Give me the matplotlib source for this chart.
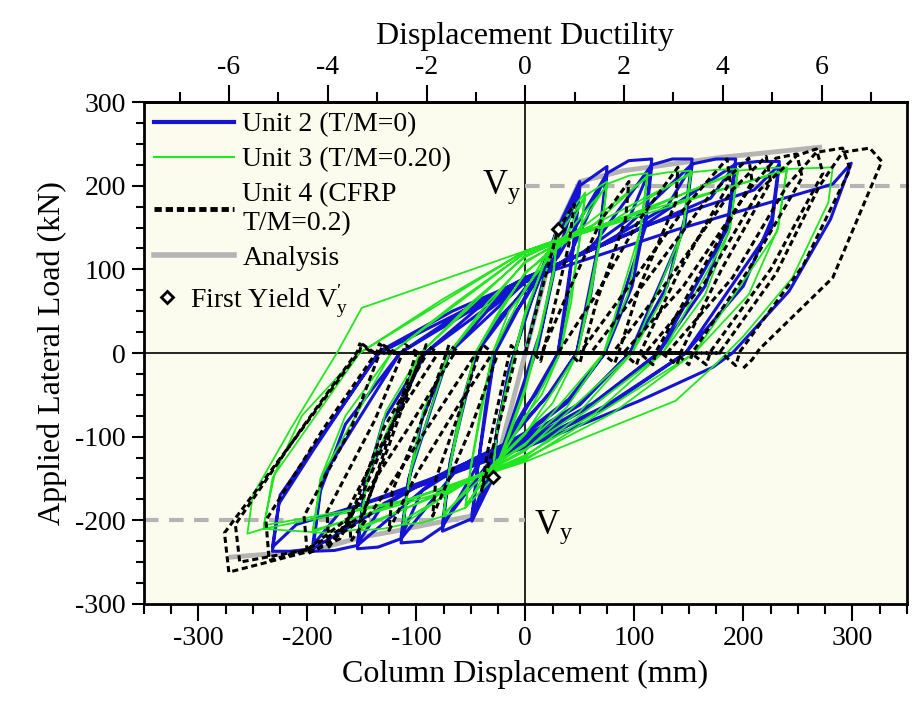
import matplotlib
matplotlib.use('Agg')
import matplotlib.pyplot as plt
from matplotlib.ticker import MultipleLocator
from matplotlib.lines import Line2D

plt.rcParams['font.family'] = ['Liberation Serif', 'DejaVu Serif']
plt.rcParams['mathtext.fontset'] = 'custom'
plt.rcParams['mathtext.rm'] = 'Liberation Serif'
plt.rcParams['mathtext.it'] = 'Liberation Serif:italic'
plt.rcParams['axes.unicode_minus'] = False

# axis ranges and ductility scale
x_lim = (-350, 350)
y_lim = (-300, 300)
mm_per_mu = 45.3
vy = 200

# first yield points (mm, kN)
yield_x = [30, -30]
yield_y = [148, -148]

# Analysis envelope (mm, kN)
analysis_pos = [(0, 0), (30, 150), (50, 205), (90, 218), (180, 234), (270, 246)]
analysis_neg = [(0, 0), (-30, -150), (-50, -195), (-90, -205), (-120, -213),
                (-150, -220), (-195, -236), (-270, -244)]

# Unit 2 (T/M=0) load path
unit2 = [
    (0, 0), (15, 80), (30, 154), (26, 100), (15, 30), (0, -30), (-15, -90), (-30, -150),
    (-26, -95), (-15, -20), (0, 40), (15, 100), (30, 150), (26, 95), (12, 10), (0, -35),
    (-15, -95), (-30, -148), (-26, -90), (-12, -10), (0, 45),
    # 50 mm
    (20, 110), (30, 150), (50, 205), (45, 140), (38, 60), (30, 0), (15, -40), (0, -65),
    (-20, -110), (-30, -150), (-49, -201), (-44, -140), (-36, -60), (-28, 0), (-14, 40), (0, 65),
    (20, 110), (50, 198), (45, 135), (30, 0), (0, -68), (-30, -140), (-49, -195), (-43, -130),
    (-28, 0), (0, 68),
    # 75 mm
    (30, 120), (50, 200), (75, 223), (68, 140), (60, 70), (47, 0), (25, -45), (0, -80),
    (-30, -125), (-49, -198), (-76, -213), (-70, -140), (-58, -60), (-45, 0), (-22, 45), (0, 75),
    (30, 115), (75, 215), (68, 135), (47, 0), (22, -48), (0, -82), (-30, -125), (-76, -205),
    (-69, -130), (-45, 0), (0, 78),
    # 116 mm
    (40, 115), (75, 215), (95, 230), (116, 232), (110, 160), (98, 80), (73, 0), (40, -55), (0, -95),
    (-40, -125), (-76, -208), (-95, -225), (-114, -227), (-108, -160), (-95, -80), (-70, 0),
    (-35, 50), (0, 85), (50, 118), (95, 160), (116, 225), (110, 150), (73, 0), (40, -58), (0, -97),
    (-50, -128), (-95, -165), (-114, -220), (-107, -150), (-70, 0), (0, 85),
    # 153 mm
    (60, 125), (116, 225), (135, 232), (153, 232), (146, 160), (130, 80), (96, 0), (50, -60),
    (0, -100), (-60, -135), (-114, -222), (-135, -232), (-154, -234), (-147, -160), (-130, -80),
    (-92, 0), (-45, 52), (0, 88), (70, 130), (130, 175), (153, 225), (146, 150), (96, 0), (50, -62),
    (0, -102), (-70, -140), (-130, -180), (-154, -228), (-146, -150), (-92, 0), (0, 88),
    # 193 mm
    (80, 135), (153, 226), (175, 232), (193, 232), (186, 160), (165, 80), (122, 0), (62, -60),
    (0, -105), (-80, -148), (-154, -230), (-175, -236), (-195, -237), (-188, -165), (-165, -85),
    (-115, 0), (-55, 52), (0, 90), (90, 140), (170, 185), (193, 226), (186, 150), (122, 0),
    (62, -62), (0, -108), (-90, -152), (-170, -190), (-195, -230), (-187, -150), (-115, 0), (0, 90),
    # 233 mm
    (100, 145), (193, 226), (213, 229), (233, 229), (226, 160), (200, 80), (147, 0), (75, -62),
    (0, -110), (-100, -160), (-195, -234), (-215, -237), (-232, -237), (-226, -180), (-195, -117),
    (-134, 2), (-67, 50), (0, 88), (110, 152), (210, 195), (233, 225), (226, 150), (147, 0),
    (75, -64), (0, -112), (-110, -165), (-210, -205), (-232, -232), (-225, -170), (-134, 0), (0, 88),
    # 299 mm
    (140, 148), (282, 202), (299, 227), (280, 160), (242, 74), (190, 0), (172, -17), (105, -57),
    (0, -113), (-30, -125),
]

# Unit 3 (T/M=0.20)
unit3 = [
    (0, 0), (15, 78), (30, 150), (26, 100), (12, 20), (0, -40), (-15, -95), (-30, -148),
    (-26, -95), (-12, -15), (0, 45), (15, 100), (30, 148), (26, 95), (10, 5), (0, -45),
    (-15, -100), (-30, -146), (-26, -90), (-10, 0), (0, 50),
    # 55 mm
    (20, 115), (30, 150), (55, 192), (50, 140), (42, 60), (32, 0), (15, -50), (0, -75),
    (-20, -118), (-30, -150), (-55, -185), (-50, -135), (-40, -60), (-30, 0), (-15, 50), (0, 75),
    (20, 120), (55, 188), (50, 135), (32, 0), (0, -78), (-30, -140), (-55, -182), (-49, -130),
    (-30, 0), (0, 78),
    # 75 mm
    (35, 135), (55, 188), (75, 205), (70, 145), (60, 70), (48, 0), (25, -60), (0, -95),
    (-35, -140), (-55, -185), (-75, -195), (-70, -140), (-60, -70), (-46, 0), (-22, 55), (0, 95),
    (35, 138), (75, 200), (69, 140), (48, 0), (0, -97), (-35, -143), (-75, -192), (-69, -135),
    (-46, 0), (0, 97),
    # 112 mm
    (45, 140), (75, 202), (95, 212), (112, 215), (106, 150), (94, 70), (72, 0), (38, -65),
    (0, -108), (-45, -148), (-75, -195), (-95, -203), (-112, -205), (-106, -145), (-94, -70),
    (-70, 0), (-35, 60), (0, 108), (50, 148), (112, 210), (105, 145), (72, 0), (0, -110),
    (-50, -152), (-112, -200), (-105, -140), (-70, 0), (0, 110),
    # 152 mm
    (60, 150), (112, 212), (130, 216), (152, 218), (145, 150), (128, 70), (98, 0), (50, -70),
    (0, -115), (-60, -158), (-112, -205), (-130, -210), (-152, -212), (-145, -150), (-128, -70),
    (-96, 0), (-48, 62), (0, 115), (65, 155), (152, 214), (144, 145), (98, 0), (0, -117),
    (-65, -162), (-152, -208), (-144, -145), (-96, 0), (0, 117),
    # 195 mm
    (80, 158), (152, 216), (175, 219), (195, 220), (188, 150), (165, 70), (126, 0), (64, -72),
    (0, -122), (-80, -168), (-152, -211), (-175, -214), (-195, -215), (-188, -150), (-165, -75),
    (-123, 0), (-62, 62), (0, 120), (85, 160), (195, 216), (187, 145), (126, 0), (0, -124),
    (-85, -170), (-195, -212), (-186, -145), (-123, 0), (0, 120),
    # 240 mm
    (100, 165), (195, 218), (220, 221), (240, 222), (232, 150), (205, 70), (155, 0), (80, -72),
    (0, -126), (-100, -172), (-195, -214), (-220, -212), (-240, -210), (-232, -150), (-205, -75),
    (-152, 0), (-75, 65), (0, 122), (105, 168), (240, 218), (231, 145), (155, 0), (0, -128),
    (-105, -175), (-240, -206), (-230, -145), (-152, 0), (0, 122),
    # 282 mm / -255 mm
    (120, 170), (240, 220), (282, 222), (278, 180), (245, 90), (200, 20), (175, -13), (138, -57),
    (0, -130), (-120, -180), (-240, -210), (-255, -216), (-250, -170), (-215, -90), (-172, 2),
    (-150, 54), (0, 122), (60, 150),
]

# Unit 4 (CFRP, T/M=0.2): narrow pinched leaves, hooks near zero load
unit4 = [
    (0, 0), (15, 75), (30, 148), (45, 178), (40, 130), (22, 30), (14, -10), (8, 0), (0, 0),
    (-8, 0), (-25, -90), (-40, -165), (-35, -120), (-18, -20), (-13, 9), (-6, 0), (0, 0),
    # 95 / -85
    (15, 0), (40, 75), (70, 160), (95, 205), (92, 160), (65, 60), (53, 2), (50, -12), (40, 0),
    (0, 0), (-25, 0), (-50, -90), (-85, -195), (-82, -150), (-55, -50), (-42, 2), (-39, 10),
    (-30, 0), (0, 0),
    # 140 / -125
    (30, 0), (65, 70), (105, 160), (140, 222), (138, 180), (105, 80), (86, 2), (82, -12),
    (70, 0), (0, 0), (-30, 0), (-65, -70), (-100, -145), (-125, -212), (-122, -165),
    (-90, -65), (-72, 2), (-70, 10), (-60, 0), (0, 0),
    # 185 / -160
    (50, 0), (95, 80), (150, 180), (185, 232), (188, 205), (140, 95), (106, 2), (102, -14),
    (90, 0), (0, 0), (-45, 0), (-85, -80), (-125, -160), (-160, -225), (-162, -185),
    (-118, -75), (-93, 2), (-91, 10), (-80, 0), (0, 0),
    # 205 / -180
    (60, 0), (110, 85), (170, 190), (205, 233), (208, 205), (160, 95), (120, 2), (117, -14),
    (105, 0), (0, 0), (-65, 0), (-105, -85), (-145, -165), (-180, -232), (-182, -190),
    (-138, -80), (-112, 2), (-110, 10), (-98, 0), (0, 0),
    # 221 / -200
    (80, 0), (130, 85), (190, 195), (221, 235), (225, 205), (180, 100), (143, 2), (139, -14),
    (125, 0), (0, 0), (-80, 0), (-120, -80), (-150, -170), (-170, -222), (-200, -240),
    (-203, -195), (-160, -90), (-133, 2), (-131, 10), (-118, 0), (0, 0),
    # 249 / -235
    (90, 0), (145, 80), (205, 195), (230, 233), (249, 238), (254, 210), (205, 100), (154, 2),
    (150, -14), (138, 0), (0, 0), (-90, 0), (-130, -90), (-160, -195), (-200, -235),
    (-235, -248), (-238, -200), (-185, -90), (-136, 2), (-134, 11), (-122, 0), (0, 0),
    # 267 / -262
    (110, 0), (165, 85), (215, 195), (249, 236), (267, 244), (273, 215), (225, 100), (170, 2),
    (166, -14), (152, 0), (0, 0), (-95, 0), (-125, -110), (-150, -195), (-200, -235),
    (-262, -250), (-266, -205), (-205, -90), (-154, 2), (-152, 11), (-140, 0), (0, 0),
    # 291 / -272
    (130, 0), (190, 90), (240, 200), (267, 240), (291, 245), (298, 220), (255, 105), (197, 2),
    (193, -15), (180, 0), (0, 0), (-100, 0), (-125, -100), (-150, -200), (-192, -235),
    (-272, -262), (-276, -215), (-210, -100), (-152, 2), (-150, 11), (-138, 0), (0, 0),
    # 316
    (178, 0), (230, 95), (270, 200), (291, 240), (316, 245), (327, 229), (282, 90), (215, 5),
    (208, -8), (200, -18),
]

blue = '#1414d2'
green = '#22e622'
grey = '#b4b4b4'

fig = plt.figure(figsize=(9.16, 7.19), dpi=100)
ax = fig.add_axes([0.157, 0.160, 0.833, 0.698])
ax.set_facecolor('#fcfcee')

ax.axhline(0, color='black', lw=1.2, zorder=1)
ax.axvline(0, color='black', lw=1.2, zorder=1)

ax.hlines(vy, 0, x_lim[1], colors=grey, lw=3, linestyles=(0, (3.5, 2.5)), zorder=1)
ax.hlines(-vy, x_lim[0], 0, colors=grey, lw=3, linestyles=(0, (3.5, 2.5)), zorder=1)
ax.text(-4, vy - 2, 'V$_\\mathrm{y}$', ha='right', va='center', fontsize=25)
ax.text(8, -vy - 8, 'V$_\\mathrm{y}$', ha='left', va='center', fontsize=25)

ax.plot(*zip(*analysis_pos), color=grey, lw=3.5, zorder=2, label='Analysis')
ax.plot(*zip(*analysis_neg), color=grey, lw=3.5, zorder=2)

ax.plot(*zip(*unit2), color=blue, lw=2.2, zorder=3, label='Unit 2 (T/M=0)')
ax.plot(*zip(*unit3), color=green, lw=1.3, zorder=4, label='Unit 3 (T/M=0.20)')
ax.plot(*zip(*unit4), color='black', lw=2.2, ls=(0, (2.0, 1.2)), zorder=5,
        label='Unit 4 (CFRP\nT/M=0.2)')

ax.plot(yield_x, yield_y, ls='none', marker='D', ms=6, mfc='white', mec='black',
        mew=2, zorder=6)

ax.set_xlim(*x_lim)
ax.set_ylim(*y_lim)
ax.xaxis.set_major_locator(MultipleLocator(100))
ax.xaxis.set_minor_locator(MultipleLocator(25))
ax.yaxis.set_major_locator(MultipleLocator(100))
ax.yaxis.set_minor_locator(MultipleLocator(25))
ax.tick_params(which='major', direction='out', length=12, width=1.5, labelsize=20, pad=4)
ax.tick_params(which='minor', direction='out', length=7, width=1.5)
ax.tick_params(axis='y', which='major', length=9)
ax.tick_params(axis='y', which='minor', length=6)
for s in ax.spines.values():
    s.set_linewidth(2)

ax.set_xlabel('Column Displacement (mm)', fontsize=23, labelpad=6)
ax.set_ylabel('Applied Lateral Load (kN)', fontsize=23, labelpad=6)

sec = ax.secondary_xaxis('top', functions=(lambda d: d / mm_per_mu, lambda m: m * mm_per_mu))
sec.set_xticks([-6, -4, -2, 0, 2, 4, 6])
sec.xaxis.set_minor_locator(MultipleLocator(1))
sec.tick_params(which='major', direction='out', length=12, width=1.5, labelsize=20, pad=4)
sec.tick_params(which='minor', direction='out', length=7, width=1.5)
sec.spines['top'].set_linewidth(2)
sec.set_xlabel('Displacement Ductility', fontsize=23, labelpad=8)

handles = [
    Line2D([], [], color=blue, lw=3),
    Line2D([], [], color=green, lw=1.5),
    Line2D([], [], color='black', lw=3.5, ls=(0, (1.5, 0.8))),
    Line2D([], [], color=grey, lw=4),
]
labels = ['Unit 2 (T/M=0)', 'Unit 3 (T/M=0.20)', 'Unit 4 (CFRP\nT/M=0.2)', 'Analysis']
leg1 = ax.legend(handles, labels, loc='upper left', bbox_to_anchor=(0.0, 1.0),
                 frameon=False, fontsize=20, handlelength=2.9, handletextpad=0.3,
                 labelspacing=0.35, borderaxespad=0.2, borderpad=0.15)
ax.add_artist(leg1)
yield_handle = Line2D([], [], ls='none', marker='D', ms=6, mfc='white', mec='black', mew=2)
ax.legend([yield_handle], ["First Yield V$^{\\prime}_\\mathrm{y}$"], loc='upper left',
          bbox_to_anchor=(0.0, 0.659), frameon=False, fontsize=20, handlelength=1.0,
          handletextpad=0.3, borderaxespad=0.2, borderpad=0.15)

fig.savefig('out.png', dpi=100)
